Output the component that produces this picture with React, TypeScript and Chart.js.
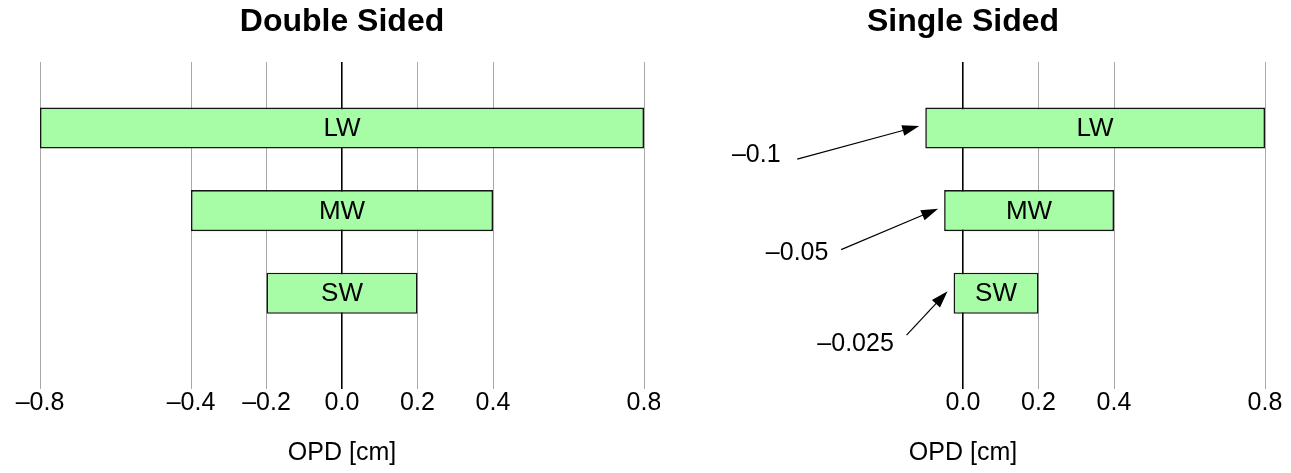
import React, { useEffect, useRef } from 'react';
import { Chart, registerables } from 'chart.js';

Chart.register(...registerables);

// ---- data ----
const categories = ['LW', 'MW', 'SW'];
const doubleStart = [-0.8, -0.4, -0.2];
const doubleEnd = [0.8, 0.4, 0.2];
const singleStart = [-0.1, -0.05, -0.025];
const singleEnd = [0.8, 0.4, 0.2];
const doubleTicks = [-0.8, -0.4, -0.2, 0, 0.2, 0.4, 0.8];
const singleTicks = [0, 0.2, 0.4, 0.8];
const panelTitles = ['Double Sided', 'Single Sided'];
const axisTitle = 'OPD [cm]';

const FONT = '"Liberation Sans", Arial, Helvetica, sans-serif';
const DASH = '\u2013';

const fmtTick = (v: number) => (v < 0 ? DASH + Math.abs(v).toFixed(1) : v.toFixed(1));
const fmtNote = (v: number) => (v < 0 ? DASH + String(Math.abs(v)) : String(v));

// annotation layout offsets relative to arrow tip (styling only)
const ARROW_LAYOUT = [
  { text: [-163, 29], line: [-122, 33] },
  { text: [-141, 44], line: [-97, 41] },
  { text: [-92, 53], line: [-41, 44] },
];

const barLabelPlugin = {
  id: 'barLabels',
  afterDatasetsDraw(chart: any) {
    const meta = chart.getDatasetMeta(0);
    const ctx = chart.ctx;
    ctx.save();
    ctx.font = `26px ${FONT}`;
    ctx.fillStyle = '#000';
    ctx.textAlign = 'center';
    ctx.textBaseline = 'middle';
    meta.data.forEach((el: any, i: number) => {
      const { x, base, y } = el.getProps(['x', 'base', 'y'], true);
      ctx.fillText(categories[i], (x + base) / 2, y + 1);
    });
    ctx.restore();
  },
};

const makeArrowPlugin = (starts: number[]) => ({
  id: 'arrowNotes',
  afterDatasetsDraw(chart: any) {
    const meta = chart.getDatasetMeta(0);
    const ctx = chart.ctx;
    ctx.save();
    meta.data.forEach((el: any, i: number) => {
      const { x, base, y } = el.getProps(['x', 'base', 'y'], true);
      const left = Math.min(x, base);
      const tx = left - 6;
      const ty = y - 2;
      const lay = ARROW_LAYOUT[i];
      const sx = tx + lay.line[0];
      const sy = ty + lay.line[1];
      const dx = tx - sx;
      const dy = ty - sy;
      const len = Math.hypot(dx, dy);
      const ux = dx / len;
      const uy = dy / len;
      const headLen = 17;
      const headHalf = 5.5;
      const bx = tx - ux * headLen;
      const by = ty - uy * headLen;
      ctx.strokeStyle = '#000';
      ctx.lineWidth = 1.2;
      ctx.beginPath();
      ctx.moveTo(sx, sy);
      ctx.lineTo(bx + ux * 2, by + uy * 2);
      ctx.stroke();
      ctx.fillStyle = '#000';
      ctx.beginPath();
      ctx.moveTo(tx, ty);
      ctx.lineTo(bx - uy * headHalf, by + ux * headHalf);
      ctx.lineTo(bx + uy * headHalf, by - ux * headHalf);
      ctx.closePath();
      ctx.fill();
      ctx.font = `25px ${FONT}`;
      ctx.textAlign = 'center';
      ctx.textBaseline = 'middle';
      ctx.fillText(fmtNote(starts[i]), tx + lay.text[0], ty + lay.text[1]);
    });
    ctx.restore();
  },
});

function makeChart(
  canvas: HTMLCanvasElement,
  starts: number[],
  ends: number[],
  ticks: number[],
  title: string,
  padLeft: number,
  padRight: number,
  withArrows: boolean
) {
  const rows = categories.map((c, i) => categories.length - i);
  const data = categories.map((c, i) => ({ x: [starts[i], ends[i]], y: rows[i] }));
  const plugins: any[] = [barLabelPlugin];
  if (withArrows) plugins.push(makeArrowPlugin(starts));
  return new Chart(canvas, {
    type: 'bar',
    data: {
      datasets: [
        {
          data: data as any,
          backgroundColor: '#a6fda6',
          borderColor: '#151515',
          borderWidth: 1.6,
          borderSkipped: false,
          barPercentage: 0.497,
          categoryPercentage: 1,
        },
      ],
    },
    options: {
      indexAxis: 'y',
      responsive: false,
      animation: false,
      devicePixelRatio: 1,
      events: [],
      layout: { padding: { left: padLeft, right: padRight, top: 0, bottom: 0 } },
      plugins: {
        legend: { display: false },
        tooltip: { enabled: false },
        title: {
          display: true,
          text: title,
          fullSize: false,
          color: '#000',
          font: { size: 32, weight: 'bold', family: FONT, lineHeight: 1.2 },
          padding: { top: 3, bottom: 20.6 },
        },
      },
      scales: {
        x: {
          type: 'linear',
          min: -0.8,
          max: 0.8,
          afterBuildTicks: (s: any) => {
            s.ticks = ticks.map((v) => ({ value: v }));
          },
          afterFit: (s: any) => {
            s.height = 84;
            s.paddingLeft = 0;
            s.paddingRight = 0;
          },
          grid: {
            color: (c: any) => (c.tick && c.tick.value === 0 ? '#000' : '#a8a8a8'),
            lineWidth: (c: any) => (c.tick && c.tick.value === 0 ? 1.6 : 1),
            drawTicks: false,
          },
          border: { display: false },
          ticks: {
            color: '#000',
            font: { size: 25, family: FONT, lineHeight: 1.2 },
            padding: -1,
            maxRotation: 0,
            autoSkip: false,
            callback: (v: any) => fmtTick(Number(v)),
          },
          title: {
            display: true,
            text: axisTitle,
            color: '#000',
            font: { size: 25, family: FONT, lineHeight: 1.2 },
            padding: { top: 0, bottom: 5 },
          },
        },
        y: {
          type: 'linear',
          display: false,
          offset: false,
          min: -0.16,
          max: 3.8,
          afterBuildTicks: (s: any) => {
            s.ticks = rows.map((v) => ({ value: v }));
          },
          grid: { display: false, offset: false },
        },
      },
    } as any,
    plugins,
  });
}

export default function App() {
  const leftRef = useRef<HTMLCanvasElement>(null);
  const rightRef = useRef<HTMLCanvasElement>(null);

  useEffect(() => {
    const a = makeChart(leftRef.current!, doubleStart, doubleEnd, doubleTicks, panelTitles[0], 40, 16, false);
    const b = makeChart(rightRef.current!, singleStart, singleEnd, singleTicks, panelTitles[1], 1, 26, true);
    return () => {
      a.destroy();
      b.destroy();
    };
  }, []);

  return (
    <div style={{ position: 'fixed', left: 0, top: 0, width: 1291, height: 473, background: '#fff' }}>
      <canvas
        ref={leftRef}
        width={660}
        height={473}
        style={{ position: 'absolute', left: 0, top: 0, width: 660, height: 473, display: 'block' }}
      />
      <canvas
        ref={rightRef}
        width={631}
        height={473}
        style={{ position: 'absolute', left: 660, top: 0, width: 631, height: 473, display: 'block' }}
      />
    </div>
  );
}
